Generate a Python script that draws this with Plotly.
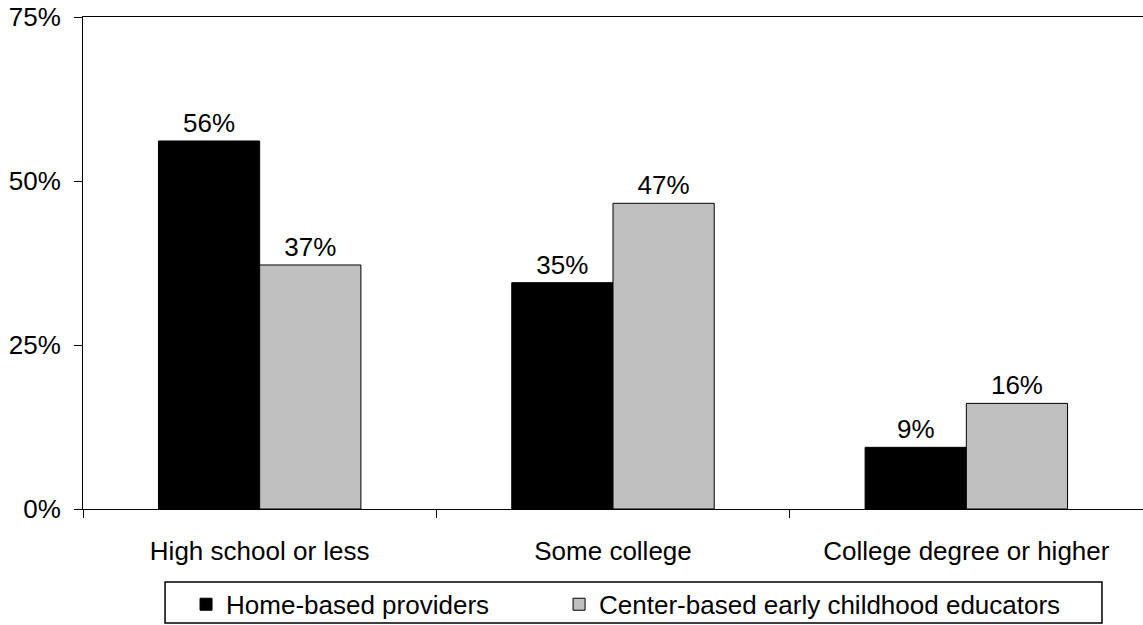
import plotly.graph_objects as go

categories = ["High school or less", "Some college", "College degree or higher"]
home_based = [56.1, 34.5, 9.4]
center_based = [37.2, 46.6, 16.1]
home_labels = ["56%", "35%", "9%"]
center_labels = ["37%", "47%", "16%"]
y_ticks = [0, 25, 50, 75]
y_tick_labels = ["0%", "25%", "50%", "75%"]
series_names = ["Home-based providers", "Center-based early childhood educators"]

FONT = "Liberation Sans, Arial, sans-serif"
FS = 26
NB = "\u00a0"

fig = go.Figure()
fig.add_trace(go.Bar(
    x=categories, y=home_based, name=series_names[0] + NB * 9,
    marker=dict(color="#000000", line=dict(color="#000000", width=1)),
    text=home_labels, textposition="outside", cliponaxis=False,
    textfont=dict(size=FS, color="#000000", family=FONT),
))
fig.add_trace(go.Bar(
    x=categories, y=center_based, name=series_names[1],
    marker=dict(color="#C0C0C0", line=dict(color="#000000", width=1)),
    text=center_labels, textposition="outside", cliponaxis=False,
    textfont=dict(size=FS, color="#000000", family=FONT),
))

fig.update_layout(
    width=1143, height=625,
    margin=dict(l=83, r=0, t=17, b=116, autoexpand=False),
    paper_bgcolor="white", plot_bgcolor="white",
    barmode="group", bargap=0.427, bargroupgap=0,
    font=dict(family=FONT, size=FS, color="#000000"),
    showlegend=True,
    legend=dict(
        orientation="h", x=0.0972, xanchor="left", y=-0.146, yanchor="top",
        borderwidth=0, bgcolor="rgba(0,0,0,0)",
        font=dict(size=FS, family=FONT, color="#000000"),
        tracegroupgap=0,
    ),
    shapes=[dict(
        type="rect", xref="paper", yref="paper",
        x0=0.0774, x1=0.9613, y0=-0.2317, y1=-0.1484,
        line=dict(color="#000000", width=1.5), fillcolor="rgba(0,0,0,0)",
    )],
)
fig.update_xaxes(
    showline=True, linecolor="#000000", linewidth=1, mirror=True,
    ticks="outside", tickson="boundaries", ticklen=8, tickcolor="#000000",
    ticklabelstandoff=19, showgrid=False,
    tickfont=dict(size=FS, family=FONT, color="#000000"),
)
fig.update_yaxes(
    range=[0, 75], tickvals=y_ticks, ticktext=y_tick_labels,
    showline=True, linecolor="#000000", linewidth=1,
    ticks="outside", ticklen=8, tickcolor="#000000", showgrid=False,
    zeroline=False, ticklabelstandoff=8,
    tickfont=dict(size=FS, family=FONT, color="#000000"),
)

fig.write_html("out.html")
